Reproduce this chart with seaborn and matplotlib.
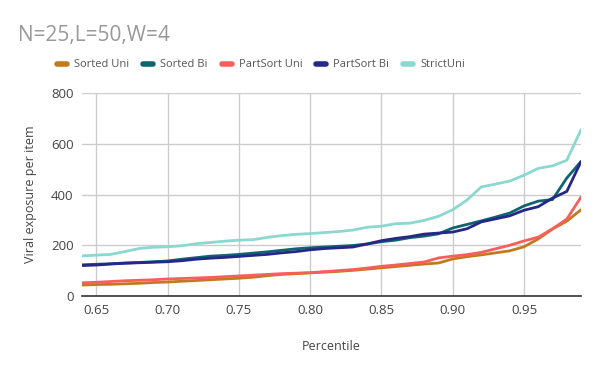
import numpy as np
import pandas as pd
import matplotlib
matplotlib.use("Agg")
import matplotlib.pyplot as plt
import seaborn as sns
from matplotlib.lines import Line2D

percentile = [0.64, 0.65, 0.66, 0.67, 0.68, 0.69, 0.70, 0.71, 0.72, 0.73, 0.74, 0.75,
              0.76, 0.77, 0.78, 0.79, 0.80, 0.81, 0.82, 0.83, 0.84, 0.85, 0.86, 0.87,
              0.88, 0.89, 0.90, 0.91, 0.92, 0.93, 0.94, 0.95, 0.96, 0.97, 0.98, 0.99]

sorted_uni = [43, 45, 46, 48, 50, 53, 55, 58, 61, 64, 67, 70, 74, 80, 85, 88, 91, 94,
              97, 101, 106, 111, 116, 121, 126, 130, 146, 155, 162, 170, 178, 194, 225,
              264, 295, 340]
sorted_bi = [123, 125, 127, 130, 132, 135, 138, 145, 151, 157, 160, 164, 169, 174, 180,
             186, 190, 193, 196, 199, 205, 214, 220, 230, 236, 245, 268, 282, 296, 311,
             327, 355, 374, 380, 465, 530]
partsort_uni = [52, 54, 57, 60, 62, 64, 67, 69, 71, 73, 76, 79, 82, 85, 88, 90, 92, 96,
                100, 104, 110, 117, 122, 128, 134, 150, 157, 163, 172, 186, 200, 217,
                232, 265, 303, 390]
partsort_bi = [120, 122, 126, 129, 131, 133, 135, 139, 145, 149, 152, 156, 160, 164, 170,
               175, 182, 187, 190, 193, 205, 218, 227, 234, 244, 248, 252, 265, 292, 304,
               316, 338, 352, 386, 412, 530]
strict_uni = [158, 161, 164, 175, 187, 192, 194, 198, 206, 211, 216, 220, 222, 231, 238,
              243, 246, 250, 254, 260, 271, 275, 285, 287, 298, 314, 340, 378, 430, 441,
              453, 476, 503, 513, 535, 655]

series_names = ["Sorted Uni", "Sorted Bi", "PartSort Uni", "PartSort Bi", "StrictUni"]
series_values = [sorted_uni, sorted_bi, partsort_uni, partsort_bi, strict_uni]
colors = ["#c27a1e", "#0f6470", "#fa5e5b", "#262887", "#8ad8d0"]

x_ticks = [0.65, 0.70, 0.75, 0.80, 0.85, 0.90, 0.95]
y_ticks = [0, 200, 400, 600, 800]

rows = []
for name, vals in zip(series_names, series_values):
    for p, v in zip(percentile, vals):
        rows.append({"Percentile": p, "value": v, "series": name})
df = pd.DataFrame(rows)

sns.set_theme(style="white")
plt.rcParams['font.family'] = ['Open Sans', 'DejaVu Sans']

fig = plt.figure(figsize=(6.0, 3.71), dpi=100)
ax = fig.add_axes([0.1367, 0.2022, 0.8317, 0.547])

sns.lineplot(data=df, x="Percentile", y="value", hue="series",
             hue_order=series_names, palette=colors, linewidth=2.0,
             ax=ax, legend=False)

ax.set_xlim(0.64, 0.99)
ax.set_ylim(0, 800)
ax.set_xticks(x_ticks)
ax.set_xticklabels([f"{t:.2f}" for t in x_ticks])
ax.set_yticks(y_ticks)
ax.grid(True, color="#cccccc", linewidth=1.0)
ax.set_axisbelow(True)
for s in ["top", "right", "left"]:
    ax.spines[s].set_visible(False)
ax.spines["bottom"].set_color("#333333")
ax.spines["bottom"].set_linewidth(1.2)
ax.tick_params(axis="both", length=0, labelsize=9.5, colors="#444444", pad=6)
ax.set_xlabel("Percentile", fontsize=9, color="#444444", labelpad=16)
ax.set_ylabel("Viral exposure per item", fontsize=9, color="#444444", labelpad=10)

fig.text(0.03, 0.905, "N=25,L=50,W=4", fontsize=15, color="#999999",
         ha="left", va="center")

handles = [Line2D([0], [0], color=c, linewidth=4) for c in colors]
leg = fig.legend(handles, series_names, loc="center", bbox_to_anchor=(0.435, 0.825),
                 ncol=5, frameon=False, fontsize=8, handlelength=0.9,
                 columnspacing=1.26, handletextpad=0.63)
for t in leg.get_texts():
    t.set_color("#555555")

fig.savefig("out.png", dpi=100)
